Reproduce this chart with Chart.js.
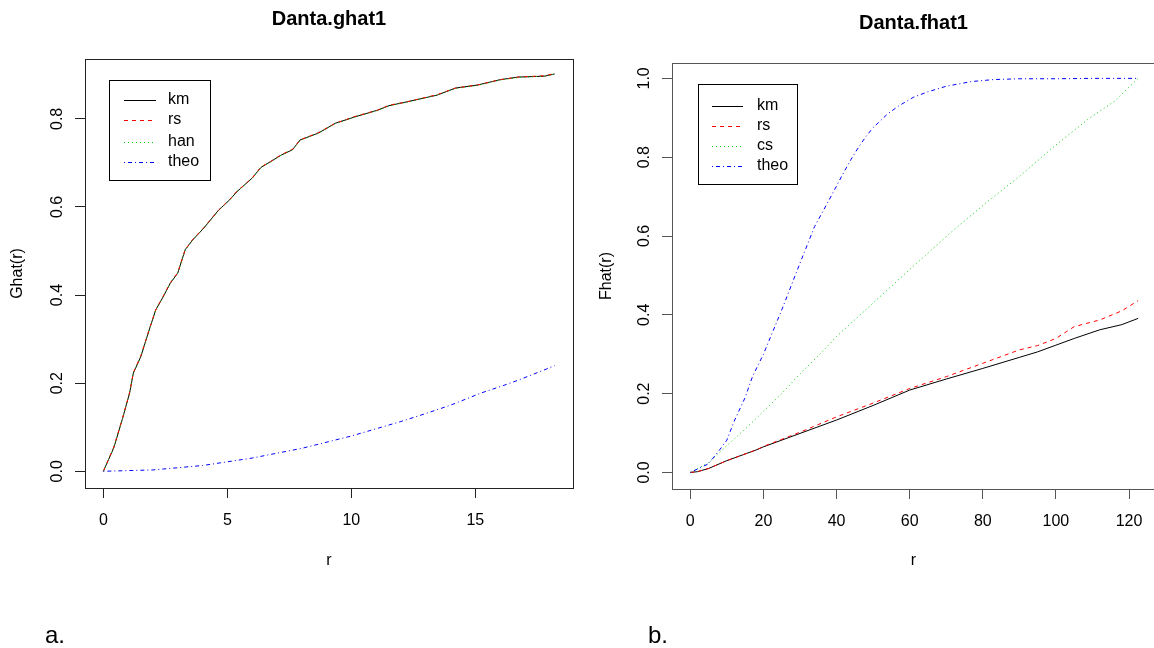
<!DOCTYPE html>
<html>
<head>
<meta charset="utf-8">
<script src="https://cdn.jsdelivr.net/npm/chart.js@4.4.0/dist/chart.umd.min.js"></script>
<style>
  html, body { margin: 0; padding: 0; background: #fff; }
  body { width: 1154px; height: 648px; position: relative; overflow: hidden; font-family: Arial, "Liberation Sans", sans-serif; }
  canvas { position: absolute; top: 0; }
  #chartA { left: 0; }
  #chartB { left: 580px; }
  .panel { position: absolute; font-size: 24px; line-height: 24px; color: #000; }
</style>
</head>
<body>
<canvas id="chartA" width="600" height="648"></canvas>
<canvas id="chartB" width="594" height="648"></canvas>
<div class="panel" style="left:45px; top:623px;">a.</div>
<div class="panel" style="left:648px; top:623px;">b.</div>
<script>
// ---- panel a: Danta.ghat1 ----
const rA = [0, 0.42, 0.76, 1.06, 1.21, 1.51, 1.81, 2.11, 2.41, 2.7, 3.0, 3.3, 3.6, 4.05, 4.65, 5.09, 5.39, 5.99, 6.36, 6.74, 7.18, 7.63, 7.93, 8.68, 9.35, 10.17, 11.07, 11.52, 12.26, 13.46, 14.2, 15.1, 16.0, 16.74, 17.79, 18.2];
const kmA = [0, 0.053, 0.117, 0.178, 0.223, 0.26, 0.314, 0.366, 0.396, 0.427, 0.45, 0.503, 0.525, 0.552, 0.593, 0.616, 0.635, 0.665, 0.69, 0.703, 0.718, 0.73, 0.752, 0.768, 0.79, 0.805, 0.82, 0.83, 0.839, 0.854, 0.87, 0.877, 0.889, 0.895, 0.897, 0.902];
const rsA = [0, 0.055, 0.118, 0.179, 0.224, 0.262, 0.315, 0.366, 0.397, 0.428, 0.451, 0.503, 0.526, 0.553, 0.593, 0.617, 0.636, 0.665, 0.691, 0.703, 0.719, 0.731, 0.752, 0.769, 0.79, 0.806, 0.82, 0.831, 0.839, 0.855, 0.87, 0.877, 0.889, 0.895, 0.898, 0.903];
const hanA = [0, 0.054, 0.117, 0.178, 0.223, 0.261, 0.314, 0.365, 0.396, 0.427, 0.45, 0.502, 0.525, 0.552, 0.592, 0.616, 0.635, 0.664, 0.69, 0.702, 0.718, 0.73, 0.751, 0.768, 0.789, 0.805, 0.819, 0.83, 0.838, 0.854, 0.869, 0.876, 0.888, 0.894, 0.897, 0.902];
const rTheoA = [0, 2, 4, 6, 8, 10, 12, 13, 14, 15.25, 16, 16.74, 18, 18.2];
const theoA = [0, 0.003, 0.013, 0.03, 0.052, 0.08, 0.113, 0.131, 0.15, 0.178, 0.192, 0.207, 0.235, 0.24];
const xTicksA = [0, 5, 10, 15];
const yTicksA = [0, 0.2, 0.4, 0.6, 0.8];

// ---- panel b: Danta.fhat1 ----
const rB = [0, 2, 5, 10, 18, 20, 30, 40, 50, 60, 70, 80, 90, 95, 100, 105, 112, 118, 122.5];
const kmB = [0, 0.002, 0.01, 0.03, 0.057, 0.065, 0.099, 0.133, 0.17, 0.209, 0.237, 0.264, 0.292, 0.306, 0.323, 0.34, 0.362, 0.375, 0.391];
const rsB = [0, 0.002, 0.01, 0.03, 0.057, 0.066, 0.102, 0.141, 0.176, 0.213, 0.243, 0.277, 0.311, 0.322, 0.34, 0.37, 0.387, 0.41, 0.436];
const rCsB = [0, 5, 10, 15, 20, 25, 30, 36.5, 40, 50, 60, 72, 81, 90, 99.5, 108.6, 116, 122.5];
const csB = [0, 0.025, 0.068, 0.11, 0.155, 0.2, 0.25, 0.31, 0.345, 0.43, 0.515, 0.615, 0.685, 0.751, 0.827, 0.895, 0.942, 1.0];
const rTheoB = [0, 5, 8, 10, 12, 15, 17, 20, 25, 30, 34, 38, 42, 44, 46, 48, 50, 54, 57, 61, 65, 70, 77, 83, 90, 100, 110, 122.5];
const theoB = [0, 0.022, 0.057, 0.082, 0.13, 0.19, 0.243, 0.3, 0.412, 0.531, 0.624, 0.692, 0.762, 0.795, 0.825, 0.852, 0.875, 0.91, 0.93, 0.952, 0.966, 0.98, 0.992, 0.997, 0.999, 0.999, 1.0, 1.0];
const xTicksB = [0, 20, 40, 60, 80, 100, 120];
const yTicksB = [0, 0.2, 0.4, 0.6, 0.8, 1.0];

const FONT = 'Arial, "Liberation Sans", sans-serif';
const COLORS = ['#000000', '#FF0000', '#00CD00', '#0000FF'];
const DASHES = [[], [4, 4], [1, 3], [1, 3, 4, 3]];

function pts(xs, ys) {
  return xs.map((x, i) => ({ x: x, y: ys[i] }));
}

// box round the plot, R-style rotated y labels, and the legend inside
const framePlugin = {
  id: 'frame',
  afterDraw(chart, args, opts) {
    const { ctx, chartArea: a } = chart;
    ctx.save();
    ctx.lineWidth = 1;
    ctx.strokeStyle = opts.color;
    ctx.strokeRect(Math.round(a.left) + 0.5, Math.round(a.top) + 0.5,
      Math.round(a.right - a.left), Math.round(a.bottom - a.top));

    const ys = chart.scales.y;
    ctx.fillStyle = '#000';
    ctx.font = '16px ' + FONT;
    ctx.textAlign = 'center';
    ctx.textBaseline = 'middle';
    ys.ticks.forEach(t => {
      const py = ys.getPixelForValue(t.value);
      ctx.save();
      ctx.translate(a.left - 27, py);
      ctx.rotate(-Math.PI / 2);
      ctx.fillText(t.value.toFixed(1), 0, 0);
      ctx.restore();
    });

    const L = opts.legend;
    ctx.strokeStyle = '#000';
    ctx.strokeRect(L.x + 0.5, L.y + 0.5, L.w, L.h);
    chart.data.datasets.forEach((ds, i) => {
      // keep rows on even pixels so thin coloured dashes stay crisp
      const y = 2 * Math.round((L.y + L.first + i * L.step) / 2);
      ctx.save();
      ctx.lineWidth = 1;
      ctx.setLineDash(DASHES[i]);
      ctx.strokeStyle = COLORS[i];
      ctx.beginPath();
      ctx.moveTo(L.x + L.line0, y + 0.5);
      ctx.lineTo(L.x + L.line1, y + 0.5);
      ctx.stroke();
      ctx.restore();
      ctx.textAlign = 'left';
      ctx.fillStyle = '#000';
      ctx.fillText(ds.label, L.x + L.text, y);
    });
    ctx.restore();
  }
};

function line(label, data, i) {
  return {
    label: label, data: data, borderColor: COLORS[i], borderDash: DASHES[i],
    borderWidth: 1, pointRadius: 0, fill: false, tension: 0, order: 3 - i
  };
}

function makeChart(id, c) {
  const tickGrid = { drawOnChartArea: false, drawTicks: true, tickLength: 10, color: c.frame, lineWidth: 1 };
  return new Chart(document.getElementById(id), {
    type: 'line',
    data: { datasets: c.datasets },
    options: {
      responsive: false,
      animation: false,
      events: [],
      layout: { padding: { left: 0, right: c.padRight, top: 0, bottom: 0 } },
      plugins: {
        legend: { display: false },
        tooltip: { enabled: false },
        title: {
          display: true, text: c.title, fullSize: false, color: '#000',
          font: { size: 20, weight: 'bold', family: FONT },
          padding: { top: c.titleTop, bottom: 28 }
        },
        frame: { color: c.frame, legend: c.legend }
      },
      scales: {
        x: {
          type: 'linear', min: c.xMin, max: c.xMax,
          afterBuildTicks: s => { s.ticks = c.xTicks.map(v => ({ value: v })); },
          afterFit: s => { s.height = c.xHeight; },
          grid: tickGrid,
          border: { display: false },
          ticks: { color: '#000', font: { size: 16, family: FONT }, padding: 13, maxRotation: 0, autoSkip: false },
          title: { display: true, text: 'r', color: '#000', font: { size: 16, family: FONT }, padding: { top: 0, bottom: 78 } }
        },
        y: {
          type: 'linear', min: c.yMin, max: c.yMax,
          afterBuildTicks: s => { s.ticks = c.yTicks.map(v => ({ value: v })); },
          afterFit: s => { s.width = c.yWidth; },
          grid: tickGrid,
          border: { display: false },
          ticks: { display: false },
          title: { display: true, text: c.yTitle, color: '#000', font: { size: 16, family: FONT }, padding: { top: c.yTitlePad, bottom: 0 } }
        }
      }
    },
    plugins: [framePlugin]
  });
}

makeChart('chartA', {
  title: 'Danta.ghat1', yTitle: 'Ghat(r)',
  xMin: -0.74, xMax: 18.94, yMin: -0.038, yMax: 0.936,
  xTicks: xTicksA, yTicks: yTicksA,
  padRight: 27, yWidth: 85, xHeight: 160, titleTop: 7, yTitlePad: 8,
  frame: '#222',
  legend: { x: 109, y: 80, w: 101, h: 100, first: 20, step: 20.6, line0: 15, line1: 47, text: 59 },
  datasets: [
    line('km', pts(rA, kmA), 0),
    line('rs', pts(rA, rsA), 1),
    line('han', pts(rA, hanA), 2),
    line('theo', pts(rTheoA, theoA), 3)
  ]
});

makeChart('chartB', {
  title: 'Danta.fhat1', yTitle: 'Fhat(r)',
  xMin: -5.0, xMax: 127.1, yMin: -0.042, yMax: 1.039,
  xTicks: xTicksB, yTicks: yTicksB,
  padRight: 19, yWidth: 92, xHeight: 159, titleTop: 11, yTitlePad: 17,
  frame: '#555',
  legend: { x: 118, y: 84, w: 99, h: 100, first: 22, step: 20, line0: 14, line1: 45, text: 59 },
  datasets: [
    line('km', pts(rB, kmB), 0),
    line('rs', pts(rB, rsB), 1),
    line('cs', pts(rCsB, csB), 2),
    line('theo', pts(rTheoB, theoB), 3)
  ]
});
</script>
</body>
</html>
